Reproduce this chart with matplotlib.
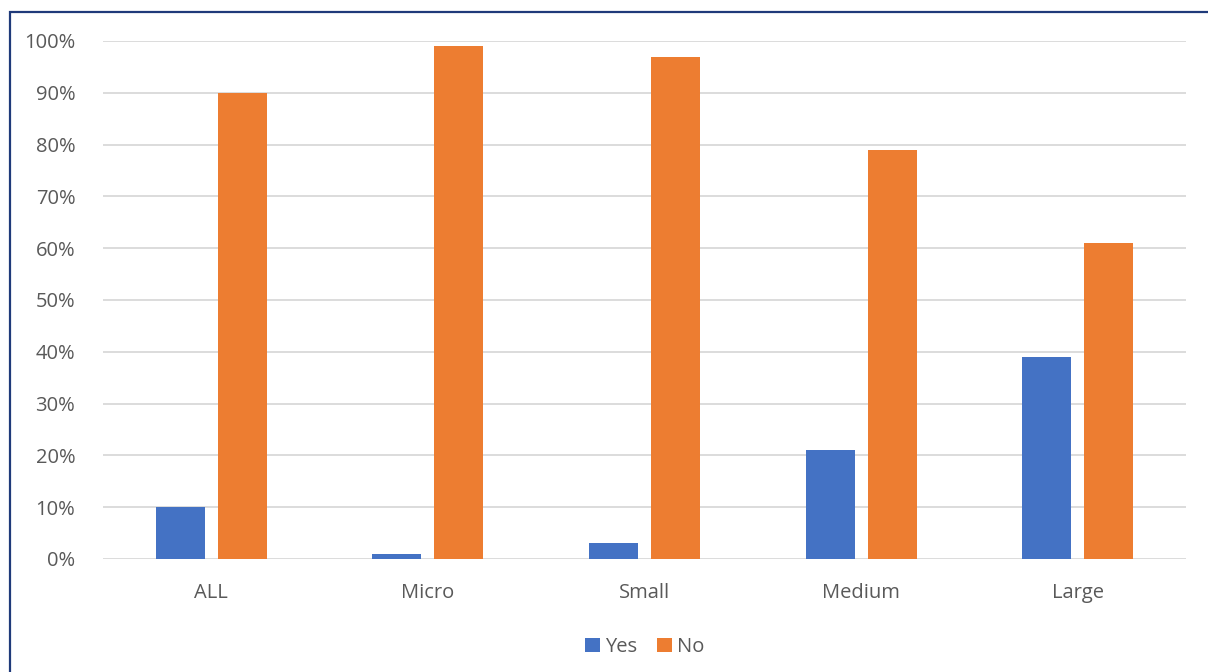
import matplotlib
matplotlib.use("Agg")
import matplotlib.pyplot as plt
import numpy as np
from matplotlib.patches import Rectangle
from matplotlib.ticker import PercentFormatter

categories = ["ALL", "Micro", "Small", "Medium", "Large"]
yes_values = [10, 1, 3, 21, 39]
no_values = [90, 99, 97, 79, 61]

plt.rcParams['font.family'] = ['Open Sans', 'DejaVu Sans']

fig = plt.figure(figsize=(12.08, 6.72), dpi=100)
ax = fig.add_axes([0.0853, 0.1682, 0.8965, 0.7708])

x = np.arange(len(categories))
w = 0.226
ax.bar(x - 0.143, yes_values, w, color='#4472C4', label='Yes', zorder=3)
ax.bar(x + 0.143, no_values, w, color='#ED7D31', label='No', zorder=3)

ax.set_xlim(-0.5, len(categories) - 0.5)
ax.set_ylim(0, 100)
ax.set_yticks(range(0, 101, 10))
ax.yaxis.set_major_formatter(PercentFormatter(decimals=0))
ax.set_xticks(x)
ax.set_xticklabels(categories)
ax.grid(axis='y', color='#D9D9D9', linewidth=1.3, zorder=0)
for s in ax.spines.values():
    s.set_visible(False)
ax.tick_params(axis='both', length=0, labelsize=14.5, labelcolor='#595959')
ax.tick_params(axis='y', pad=20)
ax.tick_params(axis='x', pad=17)

ax.legend(loc='center', bbox_to_anchor=(0.5, -0.17), ncol=2, frameon=False,
          fontsize=14.5, labelcolor='#595959', handlelength=0.75, handleheight=0.75,
          handletextpad=0.25, columnspacing=1.0)

# dark frame around chart (cropped on right/bottom)
fig.patches.append(Rectangle((10 / 1208, -0.1), 1.2, 1 - 12 / 672 + 0.1,
                             transform=fig.transFigure, fill=False,
                             edgecolor='#1F3A7A', linewidth=1.6))

fig.savefig("out.png", dpi=100)
